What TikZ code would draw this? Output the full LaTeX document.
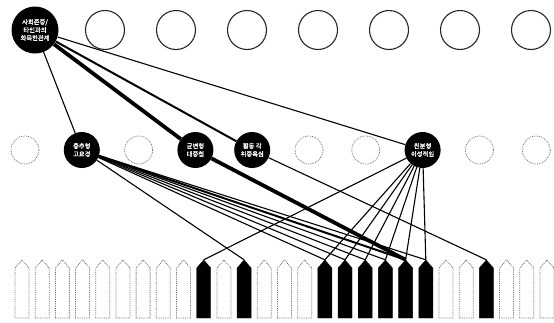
\documentclass[tikz,border=0pt]{standalone}
\usepackage{fontspec}
\newfontfamily\kr{Noto Sans CJK KR}[FakeBold=1.5]
\begin{document}
\begin{tikzpicture}[x=1pt,y=-1pt,
  blk/.style={circle, fill=black, text=white, inner sep=0pt, align=center,
    font=\kr\fontsize{6.3}{8}\selectfont},
  topw/.style={circle, draw=black!85, line width=1.1pt, minimum size=39pt, inner sep=0pt},
  midw/.style={circle, draw=black!55, densely dotted, line width=0.8pt, minimum size=28pt, inner sep=0pt},
  pentn/.style={rectangle, inner sep=0pt, minimum width=14pt, minimum height=58pt},
  pw/.style={draw=black!60, densely dotted, line width=0.8pt, fill=white},
  pb/.style={draw=black, fill=black},
  link/.style={draw=black, line width=1.1pt},
  mlink/.style={draw=black, line width=2pt},
  tlink/.style={draw=black, line width=3.8pt},
]
\useasboundingbox (0,0) rectangle (554,322);

% top row
\node[blk, minimum size=47pt] (t0) at (35,30) {사회존중/\\타인과의\\화목한관계};
\foreach \k in {1,...,7} {
  \pgfmathsetmacro\xx{105+(\k-1)*71}
  \node[topw] (t\k) at (\xx,30) {};
}

% middle row
\foreach \i/\s in {0/midw,2/midw,5/midw,6/midw,8/midw,9/midw} {
  \pgfmathsetmacro\xx{25+\i*56.8}
  \node[\s] (m\i) at (\xx,150) {};
}
\node[blk, minimum size=36pt] (m1) at (81.8,150) {충추형\\고요경};
\node[blk, minimum size=36pt] (m3) at (195.4,150) {균변형\\대중첩};
\node[blk, minimum size=36pt] (m4) at (252.2,150) {활동 각\\위중욕심};
\node[blk, minimum size=36pt] (m7) at (422.6,150) {친분형\\이성적임};

% bottom row
\foreach \i/\s in {0/pw,1/pw,2/pw,3/pw,4/pw,5/pw,6/pw,7/pw,8/pw,9/pb,10/pw,11/pb,12/pw,13/pw,
    14/pw,15/pb,16/pb,17/pb,18/pb,19/pb,20/pb,21/pw,22/pw,23/pb,24/pw,25/pw,26/pw} {
  \pgfmathsetmacro\xx{22+\i*20.19}
  \node[pentn] (b\i) at (\xx,289) {};
  \path[\s] (\xx-7,318) -- (\xx-7,268) -- (\xx,260) -- (\xx+7,268) -- (\xx+7,318) -- cycle;
}

% top to middle
\path[link] (t0) -- (m1);
\path[tlink] (t0) -- (m3);
\path[mlink] (t0) -- (m4);
\path[link] (t0) -- (m7);

% middle to bottom
\path[link] (m1) -- (b11.north);
\foreach \j in {15,16,17,18,20} \path[link] (m1) -- (b\j.north);
\path[mlink] (m1) -- (b19.north);
\path[tlink] (m3) -- (b19.north);
\path[link] (m4) -- (b23.north);
\foreach \j in {9,15,16,17,18,19,20} \path[link] (m7) -- (b\j.north);
\end{tikzpicture}
\end{document}
